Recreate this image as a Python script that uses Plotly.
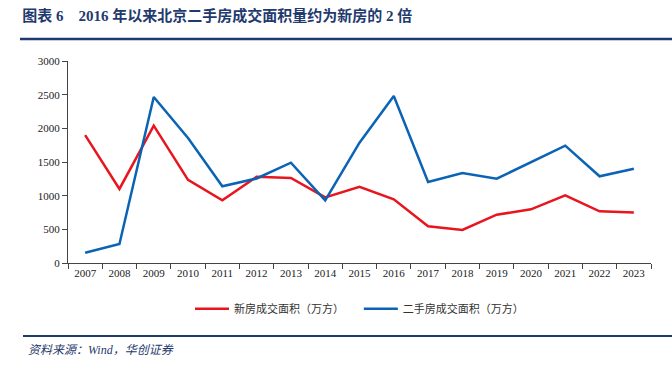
import plotly.graph_objects as go

years = [str(y) for y in range(2007, 2024)]
new_house = [1900, 1100, 2040, 1235, 930, 1280, 1262, 975, 1133, 946, 545, 490, 717, 797, 1005, 768, 750]
second_hand = [153, 282, 2465, 1856, 1139, 1255, 1490, 931, 1787, 2480, 1203, 1337, 1252, 1500, 1743, 1288, 1401]
y_ticks = [0, 500, 1000, 1500, 2000, 2500, 3000]

FONT = "Liberation Serif, Noto Sans CJK SC, serif"
NAVY = "#1F3A6E"

fig = go.Figure()
fig.add_trace(go.Scatter(x=years, y=new_house, mode="lines", name="新房成交面积（万方）&nbsp;&nbsp;&nbsp;&nbsp;",
                         line=dict(color="#E8141E", width=2.5)))
fig.add_trace(go.Scatter(x=years, y=second_hand, mode="lines", name="二手房成交面积（万方）",
                         line=dict(color="#0B63B5", width=2.5)))

fig.update_layout(
    width=672, height=365,
    margin=dict(l=68, r=21, t=61, b=102),
    paper_bgcolor="white", plot_bgcolor="white",
    font=dict(family=FONT, size=11, color="#222"),
    showlegend=True,
    legend=dict(orientation="h", x=0.5, xanchor="center", y=-0.155, yanchor="top",
                font=dict(size=11, family="Noto Sans CJK SC", color="#333"), itemwidth=34,
                tracegroupgap=0),
    xaxis=dict(type="category", range=[-0.5, 16.5], showline=True, linecolor="#444", linewidth=1,
               ticks="outside", tickson="boundaries", ticklen=5, tickcolor="#444",
               showgrid=False, tickfont=dict(size=11)),
    yaxis=dict(range=[0, 3000], tickvals=y_ticks, showline=True, linecolor="#444", linewidth=1,
               ticks="outside", ticklen=5, tickcolor="#444", showgrid=False, zeroline=False,
               tickfont=dict(size=11)),
    title=dict(text="<b>图表 6&nbsp;&nbsp;&nbsp;&nbsp;2016 年以来北京二手房成交面积量约为新房的 2 倍</b>",
               x=0.033, xanchor="left", y=0.957, yanchor="middle",
               font=dict(size=15, color=NAVY, family=FONT)),
    shapes=[
        dict(type="line", xref="paper", yref="paper", x0=-48/583, x1=(672-68)/583,
             y0=1+22/202, y1=1+22/202, line=dict(color=NAVY, width=2.5)),
        dict(type="line", xref="paper", yref="paper", x0=-45/583, x1=(672-68)/583,
             y0=-(336-263)/202, y1=-(336-263)/202, line=dict(color=NAVY, width=2)),
    ],
    annotations=[
        dict(text="<i>资料来源：Wind，华创证券</i>", xref="paper", yref="paper",
             x=-42/583, y=-(350-263)/202, xanchor="left", yanchor="middle", showarrow=False,
             font=dict(size=12, color=NAVY, family=FONT)),
    ],
)

fig.write_html("out.html", post_script="document.body.style.margin='0';",
               config={"displayModeBar": False})
